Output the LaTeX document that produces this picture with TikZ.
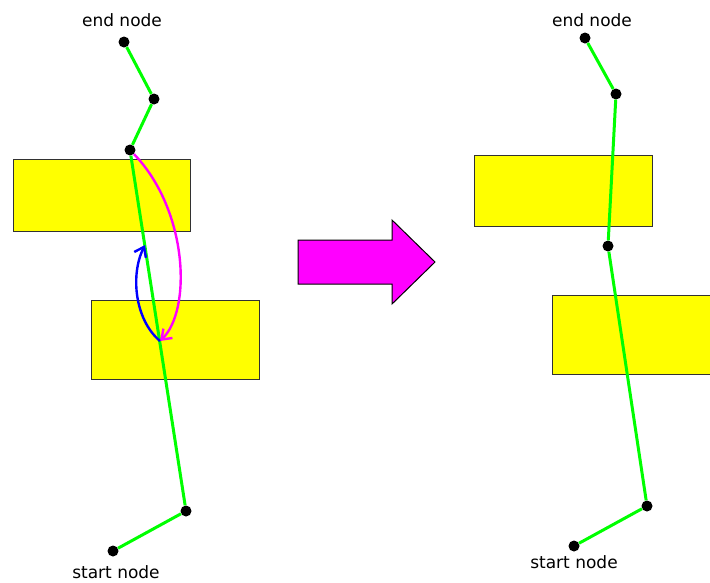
\documentclass[tikz,border=0pt]{standalone}
\usepackage{fontspec}
\setmainfont{DejaVu Sans}
\usetikzlibrary{arrows.meta}

\definecolor{pathgreen}{RGB}{0,255,0}
\definecolor{boxyellow}{RGB}{255,255,0}
\definecolor{boxedge}{RGB}{50,50,50}
\definecolor{swappink}{RGB}{255,0,255}
\definecolor{swapblue}{RGB}{0,0,255}

\tikzset{
    waypoint/.style={circle, fill=black, inner sep=0pt, minimum size=11pt},
    obstacle/.style={draw=boxedge, line width=1.2pt, fill=boxyellow, anchor=north west, inner sep=0pt},
    route/.style={pathgreen, line width=3pt},
    swap/.style={line width=2.4pt, -{Straight Barb[length=9pt, width=13pt]}},
    tag/.style={font=\fontsize{17}{20}\selectfont}
}

\begin{document}
\begin{tikzpicture}[x=1pt, y=-1pt]
    \useasboundingbox (0,0) rectangle (710,582);

    % before: the path cuts through both boxes
    \node[obstacle, minimum width=177pt, minimum height=72pt] (boxA) at (13,159) {};
    \node[obstacle, minimum width=168pt, minimum height=79pt] (boxB) at (91,300) {};

    \node[waypoint] (l1) at (113,551) {};
    \node[waypoint] (l2) at (186,511) {};
    \node[waypoint] (l3) at (130,150) {};
    \node[waypoint] (l4) at (154,99) {};
    \node[waypoint] (l5) at (124,42) {};
    \draw[route] (l1) -- (l2) -- (l3) -- (l4) -- (l5);

    \coordinate (hi) at (145,245);
    \coordinate (lo) at (160,341);
    \draw[swap, swappink] (l3) .. controls (188,210) and (192,310) .. (lo);
    \draw[swap, swapblue] (lo) .. controls (135,320) and (130,275) .. (hi);

    \node[tag] (lstart) at (116,572) {start node};
    \node[tag] (lend) at (122,20) {end node};

    % big arrow
    \draw[fill=swappink, line width=1pt] (298,240) -- (392,240) -- (392,220) -- (435,262)
        -- (392,304) -- (392,284) -- (298,284) -- cycle;

    % after: a new waypoint between the boxes
    \node[obstacle, minimum width=178pt, minimum height=71pt] (boxC) at (474,155) {};
    \node[obstacle, minimum width=170pt, minimum height=79pt] (boxD) at (552,295) {};

    \node[waypoint] (r1) at (574,546) {};
    \node[waypoint] (r2) at (647,506) {};
    \node[waypoint] (r3) at (608,246) {};
    \node[waypoint] (r4) at (616,94) {};
    \node[waypoint] (r5) at (585,38) {};
    \draw[route] (r1) -- (r2) -- (r3) -- (r4) -- (r5);

    \node[tag] (rstart) at (574,562) {start node};
    \node[tag] (rend) at (592,20) {end node};
\end{tikzpicture}
\end{document}
